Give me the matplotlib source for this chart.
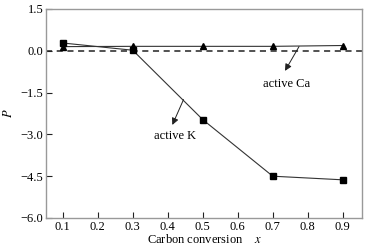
import matplotlib
matplotlib.use("Agg")
import matplotlib.pyplot as plt

x = [0.1, 0.3, 0.5, 0.7, 0.9]
ca_values = [0.15, 0.16, 0.16, 0.16, 0.19]
k_values = [0.28, 0.02, -2.47, -4.5, -4.63]
xticks = [0.1, 0.2, 0.3, 0.4, 0.5, 0.6, 0.7, 0.8, 0.9]
yticks = [1.5, 0.0, -1.5, -3.0, -4.5, -6.0]

plt.rcParams['font.family'] = ['Liberation Serif', 'DejaVu Serif']
plt.rcParams['mathtext.fontset'] = 'stix'

fig = plt.figure(figsize=(3.71, 2.49), dpi=100)
ax = fig.add_axes([46/371, 1 - 218/249, (362-46)/371, (218-9)/249])

ax.axhline(0.0, color='#222222', lw=1.1, ls=(0, (4, 3)), zorder=1)
ax.plot(x, ca_values, color='#333333', lw=0.8, marker='^', ms=5, mfc='black', mec='black', zorder=3)
ax.plot(x, k_values, color='#333333', lw=0.8, marker='s', ms=5, mfc='black', mec='black', zorder=3)

ax.set_xlim(0.052, 0.955)
ax.set_ylim(-6.0, 1.5)
ax.set_xticks(xticks)
ax.set_xticklabels([f"{v:.1f}" for v in xticks])
ax.set_yticks(yticks)
ax.set_yticklabels([f"{v:.1f}".replace('-', '\u2212') for v in yticks])

for s in ax.spines.values():
    s.set_color('#999999')
    s.set_linewidth(1.0)
ax.tick_params(direction='in', length=4, width=0.8, color='#222222', labelsize=9, pad=2)
ax.tick_params(axis='x', top=False)
ax.tick_params(axis='y', right=False)

ax.set_xlabel('Carbon conversion    $x$', fontsize=9, labelpad=0)
ax.set_ylabel('$P$', fontsize=9, labelpad=4)

arrow = dict(arrowstyle='-|>', color='#222222', lw=0.7, mutation_scale=10, shrinkA=0, shrinkB=0)
ax.annotate('', xy=(0.735, -0.72), xytext=(0.775, 0.15), arrowprops=arrow)
ax.text(0.74, -1.18, 'active Ca', fontsize=9, ha='center', va='center')
ax.annotate('', xy=(0.413, -2.66), xytext=(0.445, -1.75), arrowprops=arrow)
ax.text(0.42, -3.05, 'active K', fontsize=9, ha='center', va='center')

fig.savefig('out.png', dpi=100)
